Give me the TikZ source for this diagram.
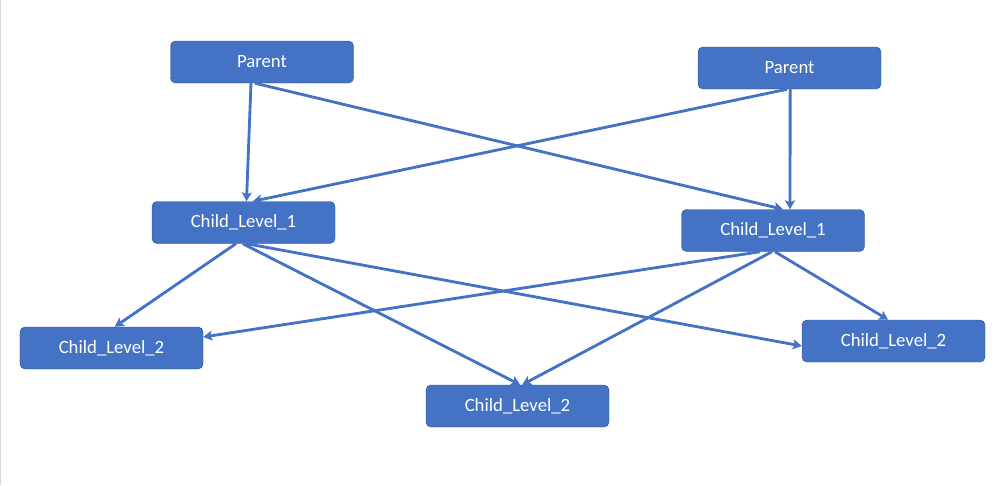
\documentclass[tikz,border=0pt]{standalone}
\usepackage{fontspec}
\setmainfont{Carlito}
\usepackage{tikz}
\usetikzlibrary{arrows.meta}
\definecolor{boxblue}{HTML}{4472C4}
\definecolor{boxedge}{HTML}{2F528F}

\begin{document}
\begin{tikzpicture}[x=0.3mm,y=-0.3mm,
        every node/.style={draw=boxedge, fill=boxblue, text=white, rounded corners=1.5mm,
            minimum width=54.9mm, minimum height=12.6mm, font=\fontsize{16}{18}\selectfont},
        link/.style={draw=boxblue, line width=0.85mm, -{Stealth[length=2.7mm,width=3mm,inset=0.6mm]}}]
        \useasboundingbox (0,0) rectangle (1000,485);
        \draw[gray!30, line width=0.3mm] (0.5,0) -- (0.5,485);

        \node (parentA) at (262,62) {Parent};
        \node (parentB) at (789.5,68) {Parent};

        \node (levelOneA) at (243.5,222.5) {Child\_Level\_1};
        \node (levelOneB) at (773,230.5) {Child\_Level\_1};

        \node (levelTwoA) at (111.5,348) {Child\_Level\_2};
        \node (levelTwoB) at (517.5,406) {Child\_Level\_2};
        \node (levelTwoC) at (893.5,341) {Child\_Level\_2};

        \draw[link] ([xshift=-3.3mm]parentA.south) -- ([xshift=0.9mm]levelOneA.north);
        \draw[link] ([xshift=-2.1mm]parentA.south) -- ([xshift=3mm]levelOneB.north);
        \draw[link] ([xshift=0.2mm]parentB.south) -- ([xshift=5.1mm]levelOneB.north);
        \draw[link] ([xshift=-0.7mm]parentB.south) -- ([xshift=2.8mm]levelOneA.north);

        \draw[link] ([xshift=-2.3mm]levelOneA.south) -- ([xshift=1mm]levelTwoA.north);
        \draw[link] ([xshift=-0.2mm]levelOneA.south) -- ([xshift=0.8mm]levelTwoB.north);
        \draw[link] ([xshift=1mm]levelOneA.south) -- ([yshift=-1.5mm]levelTwoC.west);
        \draw[link] ([xshift=-3.9mm]levelOneB.south) -- ([yshift=3.3mm]levelTwoA.east);
        \draw[link] ([xshift=-0.3mm]levelOneB.south) -- ([xshift=1.4mm]levelTwoB.north);
        \draw[link] ([xshift=0.6mm]levelOneB.south) -- ([xshift=-1.6mm]levelTwoC.north);
\end{tikzpicture}
\end{document}
